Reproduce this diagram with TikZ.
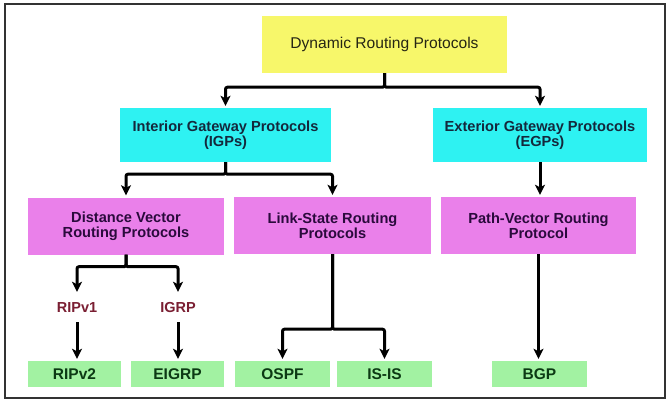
\documentclass[tikz,border=0pt]{standalone}
\usepackage{fontspec}
\setmainfont{Liberation Sans}
\usetikzlibrary{arrows.meta}
\definecolor{ybox}{HTML}{F7F76A}
\definecolor{cbox}{HTML}{2EF2F2}
\definecolor{mbox}{HTML}{EA80EA}
\definecolor{gbox}{HTML}{A2F2A2}
\definecolor{ytext}{HTML}{262614}
\definecolor{ctext}{HTML}{14283C}
\definecolor{mtext}{HTML}{2A0A3C}
\definecolor{gtext}{HTML}{0C3A14}
\definecolor{rtext}{HTML}{7A1E32}
\begin{document}
\begin{tikzpicture}[x=1pt,y=-1pt,
  box/.style={rectangle, inner sep=0pt, align=center, font=\fontsize{14.6}{15}\selectfont\bfseries},
  ybx/.style={box, fill=ybox, text=ytext, minimum width=245pt, minimum height=57pt, font=\fontsize{15.6}{16}\selectfont},
  cbx/.style={box, fill=cbox, text=ctext, minimum height=54pt},
  mbx/.style={box, fill=mbox, text=mtext, minimum height=57pt},
  gbx/.style={box, fill=gbox, text=gtext, minimum height=26pt, font=\fontsize{15.5}{16}\selectfont\bfseries},
  rlab/.style={rectangle, inner sep=0pt, minimum height=28pt, text=rtext, font=\fontsize{14.5}{15}\selectfont\bfseries},
  conn/.style={line width=3pt, black, rounded corners=2pt, -{Stealth[length=10pt,width=10pt,inset=2.5pt]}, shorten >=2pt}
]
\useasboundingbox (0,0) rectangle (672,404);
\fill[white] (0,0) rectangle (672,404);
\draw[line width=1.6pt, black!80] (5,4) rectangle (665,398);

\node[ybx] (dyn) at (384.5,44.5) {Dynamic Routing Protocols};
\node[cbx, minimum width=211pt] (igp) at (225.5,135) {Interior Gateway Protocols\\(IGPs)};
\node[cbx, minimum width=214pt] (egp) at (540,135) {Exterior Gateway Protocols\\(EGPs)};
\node[mbx, minimum width=196pt] (dv) at (126,226) {Distance Vector\\Routing Protocols};
\node[mbx, minimum width=197pt] (ls) at (332.5,225.5) {Link-State Routing\\Protocols};
\node[mbx, minimum width=195pt] (pv) at (538.5,225.5) {Path-Vector Routing\\Protocol};
\node[rlab] (ripv1) at (77,308) {RIPv1};
\node[rlab] (igrp) at (178,308) {IGRP};
\node[gbx, minimum width=93pt] (ripv2) at (74.5,374) {RIPv2};
\node[gbx, minimum width=93pt] (eigrp) at (177.5,374) {EIGRP};
\node[gbx, minimum width=95pt] (ospf) at (282.5,374) {OSPF};
\node[gbx, minimum width=95pt] (isis) at (384.5,374) {IS-IS};
\node[gbx, minimum width=95pt] (bgp) at (539.5,374) {BGP};

\draw[conn] (dyn.south) -- ++(0,14) -| (igp.north);
\draw[conn] (dyn.south) -- ++(0,14) -| (egp.north);
\draw[conn] (igp.south) -- ++(0,12) -| (dv.north);
\draw[conn] (igp.south) -- ++(0,12) -| (ls.north);
\draw[conn] (egp.south) -- (egp.south |- pv.north);
\draw[conn] (dv.south) -- ++(0,12) -| (ripv1.north);
\draw[conn] (dv.south) -- ++(0,12) -| (igrp.north);
\draw[conn] (ripv1.south) -- (ripv1.south |- ripv2.north);
\draw[conn] (igrp.south) -- (igrp.south |- eigrp.north);
\draw[conn] (ls.south) -- ++(0,75) -| (ospf.north);
\draw[conn] (ls.south) -- ++(0,75) -| (isis.north);
\draw[conn] (pv.south) -- (pv.south |- bgp.north);
\end{tikzpicture}
\end{document}
